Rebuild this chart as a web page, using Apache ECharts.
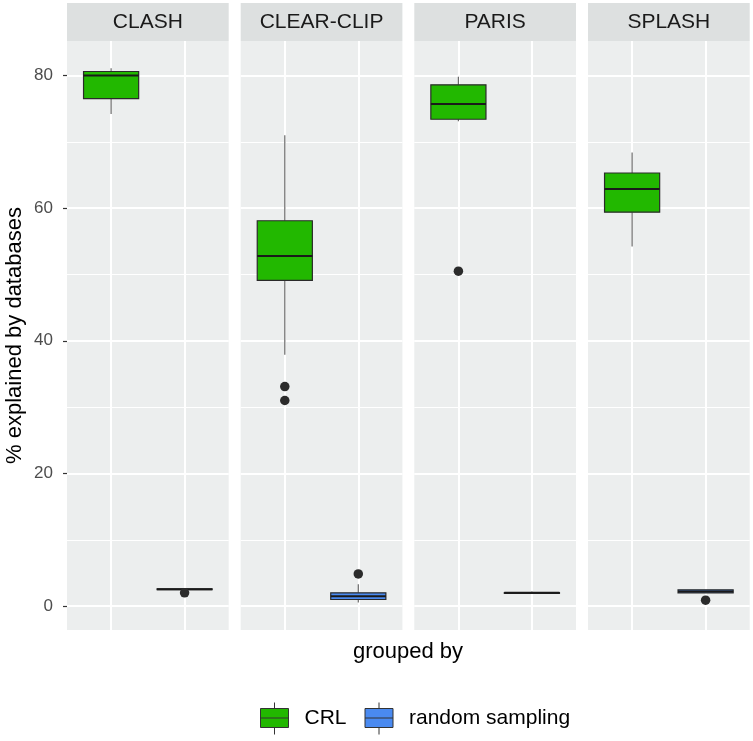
<!DOCTYPE html>
<html>
<head>
<meta charset="utf-8">
<script src="https://cdn.jsdelivr.net/npm/echarts@6/dist/echarts.min.js"></script>
<style>html,body{margin:0;padding:0;background:#fff}#chart{width:753px;height:741px}</style>
</head>
<body>
<div id="chart"></div>
<script>
// ---- data ----
const facets = ['CLASH', 'CLEAR-CLIP', 'PARIS', 'SPLASH'];
const groups = ['CRL', 'random sampling'];
const groupX = [1, 2];
// [min, Q1, median, Q3, max] per facet
const crlBox = [
  [74.2, 76.5, 80.0, 80.6, 81.1],
  [37.9, 49.1, 52.8, 58.1, 71.0],
  [73.1, 73.4, 75.7, 78.6, 79.8],
  [54.2, 59.4, 62.9, 65.3, 68.4]
];
const rsBox = [
  [2.5, 2.5, 2.55, 2.6, 2.6],
  [0.55, 1.0, 1.5, 2.0, 3.3],
  [1.85, 1.9, 2.0, 2.05, 2.2],
  [2.0, 2.0, 2.2, 2.45, 2.45]
];
const crlOutliers = [[], [33.1, 31.0], [50.5], []];
const rsOutliers = [[2.0], [4.85], [], [0.9]];
const yTicks = [0, 20, 40, 60, 80];
const yMinor = [10, 30, 50, 70];

// ---- style / layout ----
const colors = ['#22b800', '#4a8af0'];
const panelLefts = [67, 240.7, 414.3, 588];
const panelW = 161.7, panelTop = 41, panelH = 589;
const boxWidth = 0.75;
const font = '"Liberation Sans", Arial, sans-serif';

function renderBox(params, api) {
  const x = api.value(0);
  const pMin = api.coord([x, api.value(1)]);
  const pQ1 = api.coord([x, api.value(2)]);
  const pMed = api.coord([x, api.value(3)]);
  const pQ3 = api.coord([x, api.value(4)]);
  const pMax = api.coord([x, api.value(5)]);
  const half = api.size([boxWidth, 0])[0] / 2;
  const fill = api.visual('color');
  const wStyle = { stroke: '#6a6a6a', lineWidth: 1.2 };
  return {
    type: 'group',
    children: [
      { type: 'line', shape: { x1: pMin[0], y1: pMin[1], x2: pQ1[0], y2: pQ1[1] }, style: wStyle },
      { type: 'line', shape: { x1: pQ3[0], y1: pQ3[1], x2: pMax[0], y2: pMax[1] }, style: wStyle },
      { type: 'rect', shape: { x: pQ1[0] - half, y: pQ3[1], width: 2 * half, height: Math.max(pQ1[1] - pQ3[1], 0) },
        style: { fill: fill, stroke: '#2a2a2a', lineWidth: 1.2 } },
      { type: 'line', shape: { x1: pMed[0] - half, y1: pMed[1], x2: pMed[0] + half, y2: pMed[1] },
        style: { stroke: '#1a1a1a', lineWidth: 2 } }
    ]
  };
}

const grids = [], xAxes = [], yAxes = [], series = [], graphics = [];
facets.forEach((f, i) => {
  grids.push({ left: panelLefts[i], top: panelTop, width: panelW, height: panelH,
    show: true, backgroundColor: '#eceeee', borderWidth: 0 });
  xAxes.push({ gridIndex: i, type: 'value', min: 0.4, max: 2.6,
    axisLine: { show: false }, axisTick: { show: false }, axisLabel: { show: false }, splitLine: { show: false } });
  yAxes.push({ gridIndex: i, type: 'value', min: -3.6, max: 85.2,
    axisLine: { show: false },
    axisTick: { show: i === 0, length: 4, lineStyle: { color: '#333', width: 1.2 }, customValues: yTicks },
    axisLabel: { show: i === 0, customValues: yTicks, margin: 14, fontSize: 17, color: '#4d4d4d', fontFamily: font },
    splitLine: { show: false },
    name: i === 0 ? '% explained by databases' : '',
    nameLocation: 'middle', nameGap: 41,
    nameTextStyle: { fontSize: 22, color: '#000', fontFamily: font }
  });
  // gridlines
  const ml = [];
  yMinor.forEach(v => ml.push({ yAxis: v, lineStyle: { width: 1.1 } }));
  yTicks.forEach(v => ml.push({ yAxis: v, lineStyle: { width: 2 } }));
  groupX.forEach(v => ml.push({ xAxis: v, lineStyle: { width: 2 } }));
  series.push({ type: 'line', xAxisIndex: i, yAxisIndex: i, data: [], z: 1, silent: true,
    markLine: { silent: true, z: 1, symbol: ['none', 'none'], label: { show: false },
      lineStyle: { color: '#ffffff', type: 'solid' }, emphasis: { disabled: true }, animation: false, data: ml } });
  // boxes
  [crlBox, rsBox].forEach((src, g) => {
    series.push({ type: 'custom', name: groups[g], xAxisIndex: i, yAxisIndex: i, z: 10,
      itemStyle: { color: colors[g], borderColor: '#333' },
      renderItem: renderBox, encode: { x: 0, y: [1, 2, 3, 4, 5] },
      data: [[groupX[g]].concat(src[i])] });
  });
  // outliers
  const pts = [];
  crlOutliers[i].forEach(v => pts.push([groupX[0], v]));
  rsOutliers[i].forEach(v => pts.push([groupX[1], v]));
  series.push({ type: 'scatter', xAxisIndex: i, yAxisIndex: i, z: 11, symbolSize: 9.5,
    itemStyle: { color: '#2b2b2b', opacity: 1 }, data: pts, silent: true });
  // strip
  graphics.push({ type: 'rect', shape: { x: panelLefts[i], y: 3, width: panelW, height: 38 },
    style: { fill: '#dde0e0' }, silent: true });
  graphics.push({ type: 'text', x: panelLefts[i] + panelW / 2, y: 22.5,
    style: { text: f, fill: '#1a1a1a', font: '21px ' + font, textAlign: 'center', textVerticalAlign: 'middle' }, silent: true });
});
graphics.push({ type: 'text', x: 408, y: 652,
  style: { text: 'grouped by', fill: '#000', font: '22px ' + font, textAlign: 'center', textVerticalAlign: 'middle' }, silent: true });

const chart = echarts.init(document.getElementById('chart'), null, { renderer: 'canvas' });
chart.setOption({
  animation: false,
  backgroundColor: '#ffffff',
  grid: grids, xAxis: xAxes, yAxis: yAxes, series: series,
  graphic: graphics,
  legend: {
    data: groups, left: 260, top: 702, orient: 'horizontal', padding: 0,
    itemWidth: 28, itemHeight: 32, itemGap: 18,
    icon: 'path://M0,6L28,6L28,25L0,25Z M0,15.5L28,15.5 M14,0L14,6 M14,25L14,32',
    itemStyle: { borderColor: '#333', borderWidth: 1 },
    textStyle: { fontSize: 21, color: '#000', fontFamily: font, padding: [0, 0, 0, 11] },
    selectedMode: false
  }
});
</script>
</body>
</html>
